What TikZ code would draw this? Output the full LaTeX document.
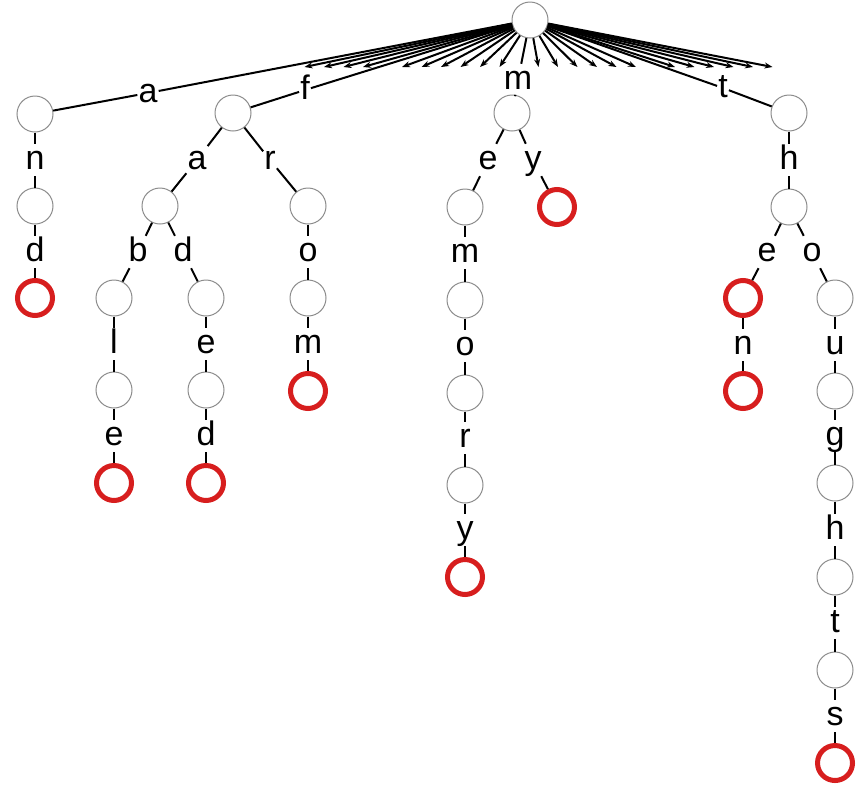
\documentclass[tikz,border=0pt]{standalone}
\usepackage{fontspec}
\setmainfont{Liberation Sans}
\usetikzlibrary{arrows.meta}
\definecolor{ringred}{RGB}{215,30,30}
\definecolor{ringgray}{RGB}{140,140,140}
\begin{document}
\begin{tikzpicture}[x=1pt,y=-1pt,
 nd/.style={circle, draw=ringgray, line width=1pt, fill=white, minimum size=36pt, inner sep=0pt},
 leaf/.style={circle, draw=ringred, line width=5pt, fill=white, minimum size=35pt, inner sep=0pt},
 lb/.style={font=\fontsize{34}{38}\selectfont, inner sep=1pt, text height=24pt, text depth=6pt},
 ed/.style={line width=2pt},
 fan/.style={line width=2pt, -{Stealth[length=8pt,width=6pt]}}]
\useasboundingbox (0,0) rectangle (864,788);
% nodes
\node[nd] (root) at (530,20) {};
% a branch
\node[nd] (A1) at (35,114) {};
\node[nd] (A2) at (35,206) {};
\node[leaf] (A3) at (35,298) {};
% f branch
\node[nd] (F1) at (233,113) {};
\node[nd] (FA) at (160,206) {};
\node[nd] (FR) at (308,206) {};
\node[nd] (FAB) at (114,298) {};
\node[nd] (FAD) at (206,298) {};
\node[nd] (FRO) at (308,298) {};
\node[nd] (FABL) at (114,390) {};
\node[nd] (FADE) at (206,390) {};
\node[leaf] (FROM) at (308,391) {};
\node[leaf] (FABLE) at (114,483) {};
\node[leaf] (FADED) at (206,483) {};
% m branch
\node[nd] (M1) at (512,113) {};
\node[nd] (ME) at (465,207) {};
\node[leaf] (MY) at (557,207) {};
\node[nd] (MEM) at (465,300) {};
\node[nd] (MEMO) at (465,393) {};
\node[nd] (MEMOR) at (465,485) {};
\node[leaf] (MEMORY) at (465,577) {};
% t branch
\node[nd] (T1) at (789,113) {};
\node[nd] (TH) at (789,207) {};
\node[leaf] (THE) at (743,298) {};
\node[nd] (THO) at (835,298) {};
\node[leaf] (THEN) at (743,391) {};
\node[nd] (THOU) at (835,391) {};
\node[nd] (THOUG) at (835,483) {};
\node[nd] (THOUGH) at (835,577) {};
\node[nd] (THOUGHT) at (835,670) {};
\node[leaf] (THOUGHTS) at (835,763) {};
% fan of arrows
\foreach \i in {1,...,4,6,7,8,9,10,11,13,14,15,16,17,18,20,21,22,23,24,25}
  \coordinate (fe\i) at ({285+19.5*\i},67);
\foreach \i in {1,...,4,6,7,8,9,10,11,13,14,15,16,17,18,20,21,22,23,24,25}
  \draw[fan] (root) -- (fe\i);
% labels
\node[lb] (la) at (148,93) {a};
\node[lb] (lf) at (305,90) {f};
\node[lb] (lm) at (518,80) {m};
\node[lb] (lt) at (723,88) {t};
\node[lb] (ln1) at (35,160) {n};
\node[lb] (ld1) at (35,252) {d};
\node[lb] (lfa) at (197,160) {a};
\node[lb] (lfr) at (270,160) {r};
\node[lb] (lfab) at (138,252) {b};
\node[lb] (lfad) at (183,252) {d};
\node[lb] (lfro) at (308,252) {o};
\node[lb] (lfabl) at (114,344) {l};
\node[lb] (lfade) at (206,344) {e};
\node[lb] (lfrom) at (308,344) {m};
\node[lb] (lfable) at (114,436) {e};
\node[lb] (lfaded) at (206,436) {d};
\node[lb] (lme) at (488,160) {e};
\node[lb] (lmy) at (533,160) {y};
\node[lb] (lmem) at (465,253) {m};
\node[lb] (lmemo) at (465,346) {o};
\node[lb] (lmemor) at (465,438) {r};
\node[lb] (lmemory) at (465,530) {y};
\node[lb] (lth) at (789,160) {h};
\node[lb] (lthe) at (767,252) {e};
\node[lb] (ltho) at (812,252) {o};
\node[lb] (lthen) at (743,345) {n};
\node[lb] (lthou) at (835,345) {u};
\node[lb] (lthoug) at (835,436) {g};
\node[lb] (lthough) at (835,530) {h};
\node[lb] (lthought) at (835,623) {t};
\node[lb] (lthoughts) at (835,716) {s};
% edges
\draw[ed] (root) -- (la) -- (A1);
\draw[ed] (root) -- (lf) -- (F1);
\draw[ed] (root) -- (lm) -- (M1);
\draw[ed] (root) -- (lt) -- (T1);
\draw[ed] (A1) -- (ln1) -- (A2);
\draw[ed] (A2) -- (ld1) -- (A3);
\draw[ed] (F1) -- (lfa) -- (FA);
\draw[ed] (F1) -- (lfr) -- (FR);
\draw[ed] (FA) -- (lfab) -- (FAB);
\draw[ed] (FA) -- (lfad) -- (FAD);
\draw[ed] (FR) -- (lfro) -- (FRO);
\draw[ed] (FAB) -- (lfabl) -- (FABL);
\draw[ed] (FAD) -- (lfade) -- (FADE);
\draw[ed] (FRO) -- (lfrom) -- (FROM);
\draw[ed] (FABL) -- (lfable) -- (FABLE);
\draw[ed] (FADE) -- (lfaded) -- (FADED);
\draw[ed] (M1) -- (lme) -- (ME);
\draw[ed] (M1) -- (lmy) -- (MY);
\draw[ed] (ME) -- (lmem) -- (MEM);
\draw[ed] (MEM) -- (lmemo) -- (MEMO);
\draw[ed] (MEMO) -- (lmemor) -- (MEMOR);
\draw[ed] (MEMOR) -- (lmemory) -- (MEMORY);
\draw[ed] (T1) -- (lth) -- (TH);
\draw[ed] (TH) -- (lthe) -- (THE);
\draw[ed] (TH) -- (ltho) -- (THO);
\draw[ed] (THE) -- (lthen) -- (THEN);
\draw[ed] (THO) -- (lthou) -- (THOU);
\draw[ed] (THOU) -- (lthoug) -- (THOUG);
\draw[ed] (THOUG) -- (lthough) -- (THOUGH);
\draw[ed] (THOUGH) -- (lthought) -- (THOUGHT);
\draw[ed] (THOUGHT) -- (lthoughts) -- (THOUGHTS);
\end{tikzpicture}
\end{document}
